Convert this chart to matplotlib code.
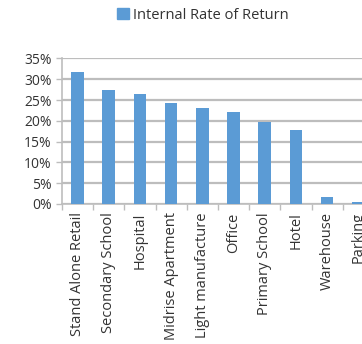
import numpy as np
import matplotlib
matplotlib.use("Agg")
import matplotlib.pyplot as plt
import matplotlib.ticker as ticker
from matplotlib.patches import Patch

categories = ["Stand Alone Retail", "Secondary School", "Hospital", "Midrise Apartment",
              "Light manufacture", "Office", "Primary School", "Hotel", "Warehouse", "Parking"]
irr = [0.317, 0.274, 0.265, 0.242, 0.230, 0.221, 0.198, 0.178, 0.018, 0.004]
series_name = "Internal Rate of Return"

bar_color = "#5B9BD5"
grid_color = "#BDBDBD"
text_color = "#333333"

plt.rcParams["font.family"] = ["Open Sans", "DejaVu Sans"]

fig = plt.figure(figsize=(3.62, 3.44), dpi=100)
ax = fig.add_axes([0.171, 0.407, 0.862, 0.423])

x = np.arange(len(categories))
ax.bar(x, irr, width=0.4, color=bar_color, zorder=3)

ax.set_xlim(-0.5, len(categories) - 0.5)
ax.set_ylim(0, 0.35)
ax.yaxis.set_major_locator(ticker.MultipleLocator(0.05))
ax.yaxis.set_major_formatter(ticker.FuncFormatter(lambda v, p: f"{v * 100:.0f}%"))
ax.grid(axis="y", color=grid_color, lw=1.6, zorder=0)

ax.set_xticks(x)
ax.set_xticklabels(categories, rotation=90, fontsize=10.5, color=text_color)
ax.set_xticks(np.arange(-0.5, len(categories)), minor=True)
ax.tick_params(axis="x", which="major", length=0, pad=6)
ax.tick_params(axis="x", which="minor", length=4, color=grid_color, width=1)
ax.tick_params(axis="y", labelsize=10, labelcolor=text_color, length=4, color=grid_color, width=1)

for side in ["top", "right"]:
    ax.spines[side].set_visible(False)
for side in ["left", "bottom"]:
    ax.spines[side].set_color(grid_color)
    ax.spines[side].set_linewidth(1.2)

fig.legend(handles=[Patch(color=bar_color, label=series_name)], loc="center",
           bbox_to_anchor=(0.56, 0.955), frameon=False, fontsize=10.5,
           handlelength=0.8, handleheight=0.8, handletextpad=0.3,
           labelcolor=text_color)

fig.savefig("out.png", dpi=100)
